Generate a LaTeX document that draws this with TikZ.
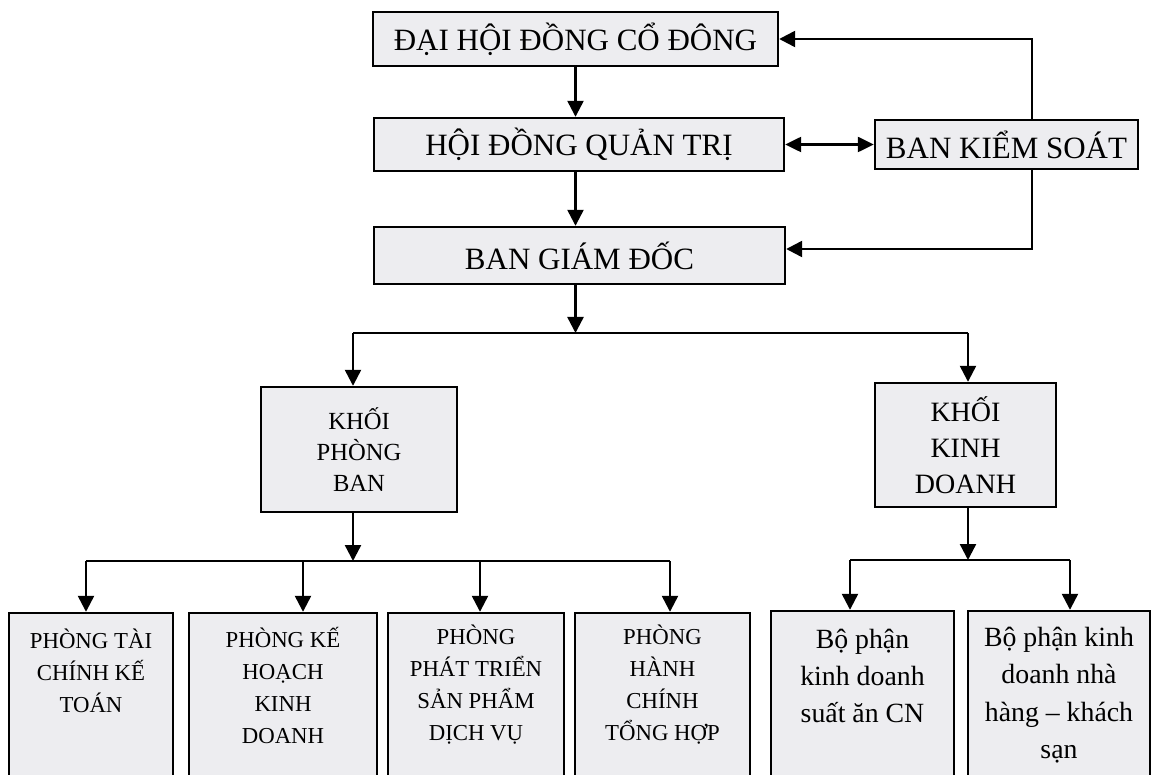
\documentclass[tikz,border=0pt]{standalone}
\usepackage{fontspec}
\setmainfont{Liberation Serif}
\usetikzlibrary{arrows.meta}
\definecolor{boxfill}{RGB}{237,237,240}
\begin{document}
\begin{tikzpicture}[x=0.5pt,y=-0.5pt,
  box/.style={draw, line width=1.2pt, fill=boxfill, inner sep=0pt, align=center},
  ln/.style={line width=1.2pt},
  arr/.style={line width=1.2pt, -{Triangle[length=8pt,width=8pt]}},
  arrb/.style={line width=1.2pt, {Triangle[length=8pt,width=7.5pt]}-{Triangle[length=8pt,width=7.5pt]}},
  topf/.style={font=\fontsize{15.5}{18}\selectfont},
  kpbf/.style={font=\fontsize{12.3}{15.5}\selectfont},
  kkdf/.style={font=\fontsize{14}{18}\selectfont},
  phf/.style={font=\fontsize{11.4}{16}\selectfont, align=center, inner sep=0pt},
  bpf/.style={font=\fontsize{13.9}{18.7}\selectfont, align=center, inner sep=0pt}]
\useasboundingbox (0,0) rectangle (1158,775);
\fill[white] (0,0) rectangle (1158,775);
\clip (0,0) rectangle (1158,775);

% top boxes
\node[box, topf, minimum width=202.5pt, minimum height=27pt] (dh) at (575.5,39) {ĐẠI HỘI ĐỒNG CỔ ĐÔNG};
\node[box, topf, minimum width=205pt, minimum height=26.5pt] (hd) at (579,144.5) {HỘI ĐỒNG QUẢN TRỊ};
\node[box, topf, minimum width=205.5pt, minimum height=28.5pt] (bgd) at (579.5,255.5) {BAN GIÁM ĐỐC};
\node[box, topf, minimum width=131.5pt, minimum height=24.5pt] (bks) at (1006.5,144.5) {BAN KIỂM SOÁT};

% blocks
\node[box, kpbf, minimum width=98pt, minimum height=62.5pt] (kpb) at (359,449.5) {KHỐI\\PHÒNG\\BAN};
\node[box, kkdf, minimum width=90.5pt, minimum height=62pt] (kkd) at (965.5,445) {KHỐI\\KINH\\DOANH};

% bottom boxes
\node[box, minimum width=82pt, minimum height=88.5pt] (p1) at (91,701.5) {};
\node[box, minimum width=94pt, minimum height=88.5pt] (p2) at (283,701.5) {};
\node[box, minimum width=88pt, minimum height=88.5pt] (p3) at (476,701.5) {};
\node[box, minimum width=87.5pt, minimum height=88.5pt] (p4) at (662.5,701.5) {};
\node[box, minimum width=91.5pt, minimum height=89.5pt] (p7) at (862.5,700.5) {};
\node[box, minimum width=91pt, minimum height=89.5pt] (p8) at (1059,700.5) {};

\node[phf] (t1) at (91,671) {PHÒNG TÀI\\CHÍNH KẾ\\TOÁN};
\node[phf] (t2) at (283,685) {PHÒNG KẾ\\HOẠCH\\KINH\\DOANH};
\node[phf] (t3) at (476,685) {PHÒNG\\PHÁT TRIỂN\\SẢN PHẨM\\DỊCH VỤ};
\node[phf] (t4) at (662.5,685) {PHÒNG\\HÀNH\\CHÍNH\\TỔNG HỢP};
\node[bpf] (t7) at (862.5,676) {Bộ phận\\kinh doanh\\suất ăn CN};
\node[bpf] (t8) at (1059,695) {Bộ phận kinh\\doanh nhà\\hàng – khách\\sạn};

% top connectors
\draw[arr] (dh.south) -- (dh.south |- hd.north);
\draw[arr] (hd.south -| dh.south) -- (dh.south |- bgd.north);
\draw[arrb] (hd.east) -- (bks.west);
\coordinate (vx) at (1032,0);
\draw[arr] (vx |- bks.north) |- (dh.east);
\draw[arr] (vx |- bks.south) |- ([yshift=3.25pt]bgd.east);

% BGD to blocks
\coordinate (bc) at (575.5,333);
\coordinate (bl) at (353,333);
\coordinate (br) at (968,333);
\draw[arr] (bgd.south -| bc) -- (bc);
\draw[ln] (bl) -- (br);
\draw[arr] (bl) -- (bl |- kpb.north);
\draw[arr] (br) -- (br |- kkd.north);

% KPB to departments
\coordinate (kc) at (353,561);
\coordinate (q1) at (86,561);
\coordinate (q2) at (303,561);
\coordinate (q3) at (480,561);
\coordinate (q4) at (670,561);
\draw[arr] (kc |- kpb.south) -- (kc);
\draw[ln] (q1) -- (q4);
\draw[arr] (q1) -- (q1 |- p1.north);
\draw[arr] (q2) -- (q2 |- p2.north);
\draw[arr] (q3) -- (q3 |- p3.north);
\draw[arr] (q4) -- (q4 |- p4.north);

% KKD to units
\coordinate (kd) at (968,560);
\coordinate (r1) at (850,560);
\coordinate (r2) at (1070,560);
\draw[arr] (kd |- kkd.south) -- (kd);
\draw[ln] (r1) -- (r2);
\draw[arr] (r1) -- (r1 |- p7.north);
\draw[arr] (r2) -- (r2 |- p8.north);
\end{tikzpicture}
\end{document}
